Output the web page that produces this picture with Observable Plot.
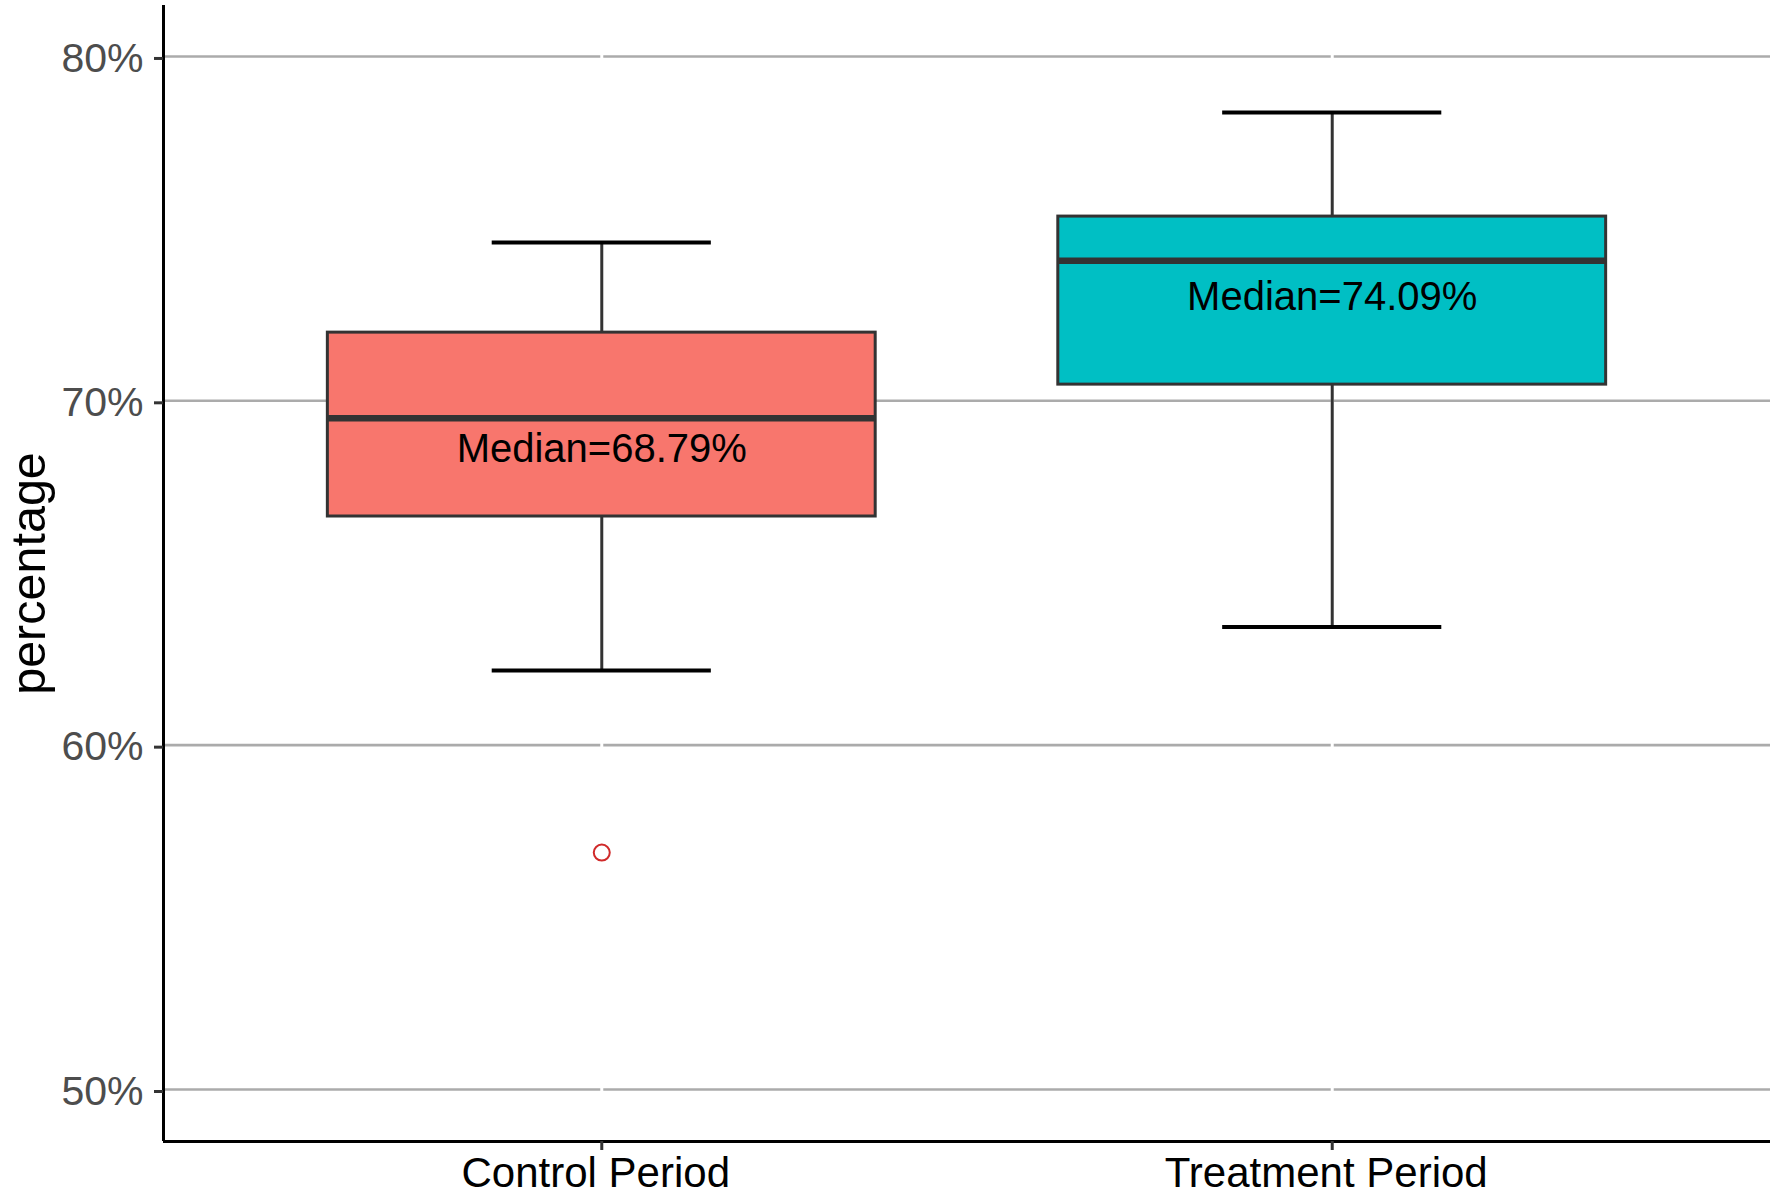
<!DOCTYPE html>
<html><head><meta charset="utf-8">
<script src="https://cdn.jsdelivr.net/npm/d3@7"></script>
<script src="https://cdn.jsdelivr.net/npm/@observablehq/plot@0.6"></script>
<style>html,body{margin:0;padding:0;background:#fff;overflow:hidden}</style>
</head><body><div id="chart"></div>
<script>
const categories = ["Control Period", "Treatment Period"];
const fills = ["#F8766D", "#00BFC4"];
const lowerWhisker = [62.17, 63.43];
const q1 = [66.64, 70.47];
const median = [69.49, 74.07];
const q3 = [71.98, 75.35];
const upperWhisker = [74.60, 78.37];
const medianLabels = ["Median=68.79%", "Median=74.09%"];
const medianLabelY = [68.60, 73.00];
const outlierCategory = ["Control Period"];
const outlierValue = [56.88];
const yTicks = [50, 60, 70, 80];
const yDomain = [48.49, 81.48];
const xDomain = [0.4, 2.6];

const boxes = categories.map((c, i) => ({
  cat: c, pos: i + 1, lo: lowerWhisker[i], q1: q1[i], med: median[i],
  q3: q3[i], hi: upperWhisker[i], label: medianLabels[i], labelY: medianLabelY[i]
}));
const outliers = outlierCategory.map((c, i) => ({pos: categories.indexOf(c) + 1, value: outlierValue[i]}));
const xTicks = categories.map((c, i) => i + 1);
const boxHalf = 0.375, capHalf = 0.15;

const chart = Plot.plot({
  width: 1773,
  height: 1198,
  marginLeft: 163,
  marginRight: 3,
  marginTop: 5,
  marginBottom: 57,
  style: {background: "white", fontFamily: "'Liberation Sans', Arial, sans-serif"},
  x: {type: "linear", domain: xDomain, axis: null},
  y: {type: "linear", domain: yDomain, axis: null},
  color: {domain: categories, range: fills},
  marks: [
    Plot.ruleY(yTicks, {stroke: "#ababab", strokeWidth: 2.6}),
    Plot.ruleX(boxes, {x: "pos", stroke: "white", strokeWidth: 3}),
    Plot.ruleX(boxes, {x: "pos", y1: "lo", y2: "q1", stroke: "#333", strokeWidth: 3}),
    Plot.ruleX(boxes, {x: "pos", y1: "q3", y2: "hi", stroke: "#333", strokeWidth: 3}),
    Plot.ruleY(boxes, {y: "lo", x1: d => d.pos - capHalf, x2: d => d.pos + capHalf, stroke: "black", strokeWidth: 4}),
    Plot.ruleY(boxes, {y: "hi", x1: d => d.pos - capHalf, x2: d => d.pos + capHalf, stroke: "black", strokeWidth: 4}),
    Plot.rect(boxes, {x1: d => d.pos - boxHalf, x2: d => d.pos + boxHalf, y1: "q1", y2: "q3", fill: "cat", stroke: "#333", strokeWidth: 3}),
    Plot.ruleY(boxes, {y: "med", x1: d => d.pos - boxHalf, x2: d => d.pos + boxHalf, stroke: "#333", strokeWidth: 6.5}),
    Plot.text(boxes, {x: "pos", y: "labelY", text: "label", fontSize: 40, fill: "black"}),
    Plot.dot(outliers, {x: "pos", y: "value", r: 8, stroke: "#d02a2a", fill: "none", strokeWidth: 2}),
    Plot.ruleX([xDomain[0]], {stroke: "black", strokeWidth: 3}),
    Plot.ruleY([yDomain[0]], {stroke: "black", strokeWidth: 3}),
    Plot.axisY(yTicks, {tickSize: 9, tickPadding: 11, dy: 2, tickFormat: d => d + "%", fontSize: 41, fill: "#4d4d4d", stroke: "#333", strokeWidth: 3, label: null}),
    Plot.axisX(xTicks, {tickSize: 9, tickFormat: () => "", stroke: "#333", strokeWidth: 3, label: null}),
    Plot.axisX(xTicks, {tickSize: 0, tickPadding: 16, dx: -6, tickFormat: d => categories[d - 1], fontSize: 42, fill: "black", label: null}),
    Plot.text(["percentage"], {frameAnchor: "left", rotate: -90, dx: -153, lineAnchor: "top", textAnchor: "middle", fontSize: 48.5, fill: "black"})
  ]
});
document.getElementById("chart").appendChild(chart);
</script>
</body></html>
